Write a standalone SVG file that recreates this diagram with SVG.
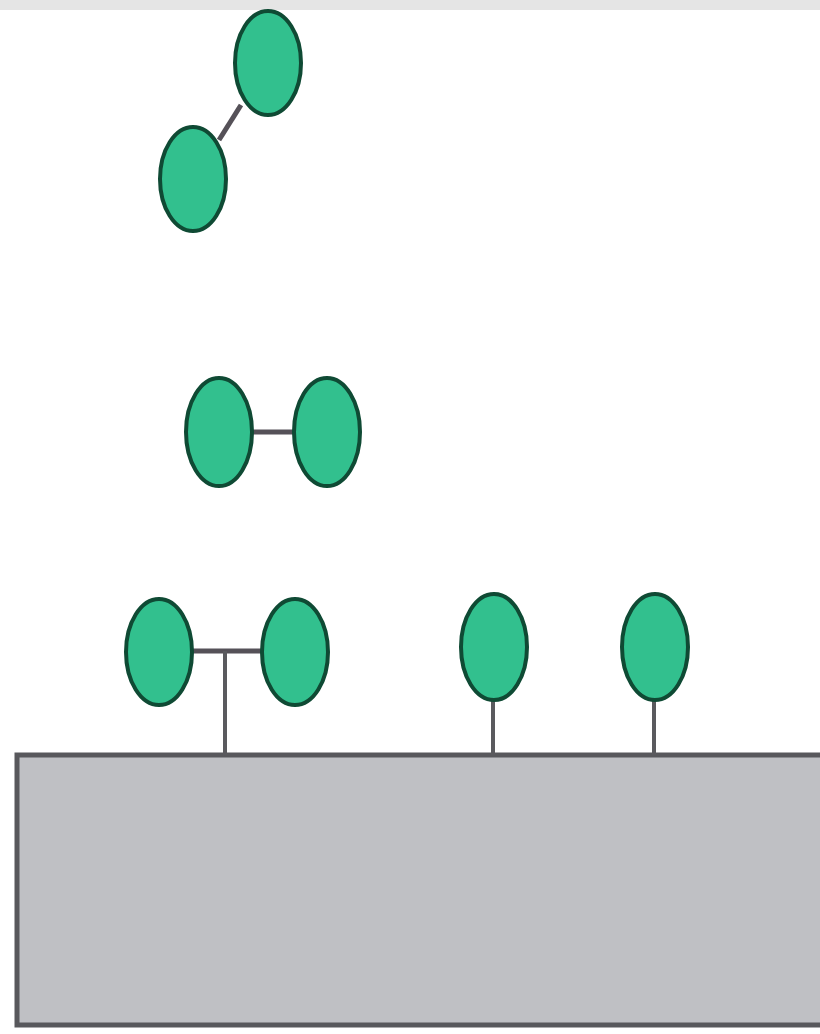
<svg xmlns="http://www.w3.org/2000/svg" width="820" height="1034" viewBox="0 0 820 1034">
<style>
.node{fill:#32c08e;stroke:#0f4a34;stroke-width:4}
.link{stroke:#555158;stroke-width:5;fill:none}
.stem{stroke:#5a5a5e;stroke-width:4;fill:none}
</style>
<rect x="0" y="0" width="820" height="1034" fill="#ffffff"/>
<rect x="0" y="0" width="820" height="10" fill="#e5e5e5"/>
<g id="surface">
<rect x="17" y="755" width="810" height="270" fill="#bfc0c4" stroke="#58585c" stroke-width="5"/>
</g>
<g id="connectors">
<line class="link" x1="219" y1="140" x2="241" y2="105"/>
<line class="link" x1="252" y1="432" x2="293" y2="432"/>
<line class="link" x1="192" y1="651" x2="261" y2="651"/>
<line class="stem" x1="225" y1="651" x2="225" y2="755"/>
<line class="stem" x1="493" y1="700" x2="493" y2="755"/>
<line class="stem" x1="654" y1="700" x2="654" y2="755"/>
</g>
<g id="n1"><ellipse class="node" cx="268" cy="63" rx="33" ry="52"/></g>
<g id="n2"><ellipse class="node" cx="193" cy="179" rx="33" ry="52"/></g>
<g id="n3"><ellipse class="node" cx="219" cy="432" rx="33" ry="54"/></g>
<g id="n4"><ellipse class="node" cx="327" cy="432" rx="33" ry="54"/></g>
<g id="n5"><ellipse class="node" cx="159" cy="652" rx="33" ry="53"/></g>
<g id="n6"><ellipse class="node" cx="295" cy="652" rx="33" ry="53"/></g>
<g id="n7"><ellipse class="node" cx="494" cy="647" rx="33" ry="53"/></g>
<g id="n8"><ellipse class="node" cx="655" cy="647" rx="33" ry="53"/></g>
</svg>
